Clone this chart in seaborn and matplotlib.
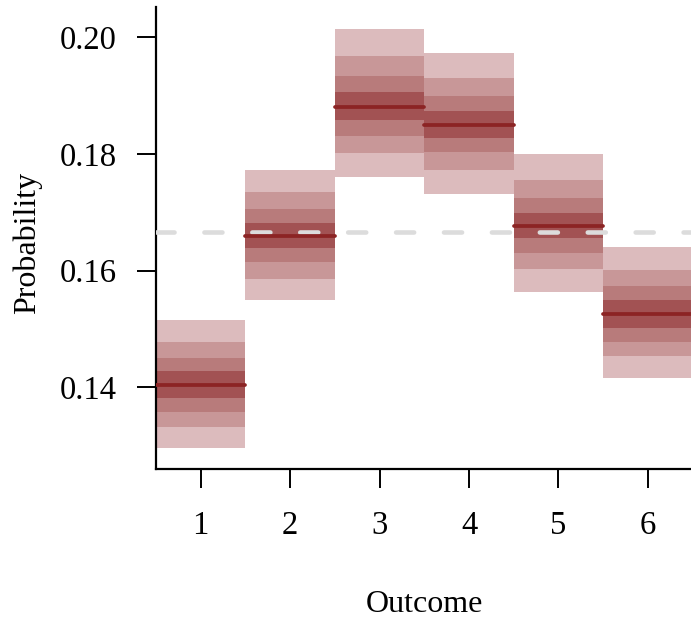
import matplotlib
matplotlib.use("Agg")
import matplotlib.pyplot as plt
import seaborn as sns
import numpy as np

# ---- data ----
outcomes = [1, 2, 3, 4, 5, 6]
medians = [0.1404, 0.1660, 0.1881, 0.1849, 0.1677, 0.1525]
# nested intervals, widest first: (lower, upper)
lower_97 = [0.1297, 0.1549, 0.1760, 0.1731, 0.1564, 0.1416]
upper_97 = [0.1515, 0.1772, 0.2014, 0.1972, 0.1799, 0.1640]
lower_89 = [0.1333, 0.1586, 0.1801, 0.1773, 0.1602, 0.1453]
upper_89 = [0.1478, 0.1735, 0.1968, 0.1930, 0.1756, 0.1601]
lower_70 = [0.1358, 0.1615, 0.1831, 0.1803, 0.1630, 0.1478]
upper_70 = [0.1451, 0.1705, 0.1934, 0.1899, 0.1725, 0.1574]
lower_50 = [0.1382, 0.1639, 0.1858, 0.1827, 0.1655, 0.1502]
upper_50 = [0.1428, 0.1681, 0.1906, 0.1873, 0.1699, 0.1549]
reference = 1 / 6
yticks = [0.14, 0.16, 0.18, 0.20]
ytick_labels = ["0.14", "0.16", "0.18", "0.20"]

band_colors = ["#DCBBBD", "#C89798", "#B87B7B", "#A25253"]
median_color = "#8C2424"

sns.set_theme(style="ticks")
plt.rcParams["font.family"] = ["Liberation Serif", "DejaVu Serif"]
plt.rcParams["lines.scale_dashes"] = False

W, H = 691, 620
fig = plt.figure(figsize=(W / 100, H / 100), dpi=100)
left, right, top, bottom = 156, 692.6, 7, 469
ax = fig.add_axes([left / W, (H - bottom) / H, (right - left) / W, (bottom - top) / H])

bands = [(lower_97, upper_97), (lower_89, upper_89), (lower_70, upper_70), (lower_50, upper_50)]
for (lo, hi), col in zip(bands, band_colors):
    lo = np.array(lo)
    hi = np.array(hi)
    ax.bar(outcomes, hi - lo, bottom=lo, width=1.0, color=col, linewidth=0, zorder=2)

ax.axhline(reference, color="#DCDCDC", lw=3.3, dashes=(13.0, 21.5), dash_capstyle="round", zorder=3)

ax.hlines(medians, np.array(outcomes) - 0.5, np.array(outcomes) + 0.5,
          color=median_color, lw=2.7, capstyle="round", zorder=4)

ax.set_xlim(0.5, 6.5)
ax.set_ylim(0.12603, 0.20514)
ax.set_xticks(outcomes)
ax.set_xticklabels([str(o) for o in outcomes])
ax.set_yticks(yticks)
ax.set_yticklabels(ytick_labels)

for s in ["top", "right"]:
    ax.spines[s].set_visible(False)
for s in ["left", "bottom"]:
    ax.spines[s].set_linewidth(1.6)
    ax.spines[s].set_color("black")

ax.tick_params(axis="both", length=14, width=1.4, color="black", labelsize=23.5, labelcolor="black")
ax.tick_params(axis="x", pad=16)
ax.tick_params(axis="y", pad=14)

ax.set_xlabel("Outcome", fontsize=23, color="black")
ax.set_ylabel("Probability", fontsize=23, color="black")
ax.xaxis.label.set_va("center")
ax.yaxis.label.set_va("center")
ax.xaxis.set_label_coords(0.5, (bottom - 604) / (bottom - top))
ax.yaxis.set_label_coords((27 - left) / (right - left), 0.49)

ax.grid(False)
ax.set_facecolor("white")
fig.patch.set_facecolor("white")
fig.savefig("out.png", dpi=100)
